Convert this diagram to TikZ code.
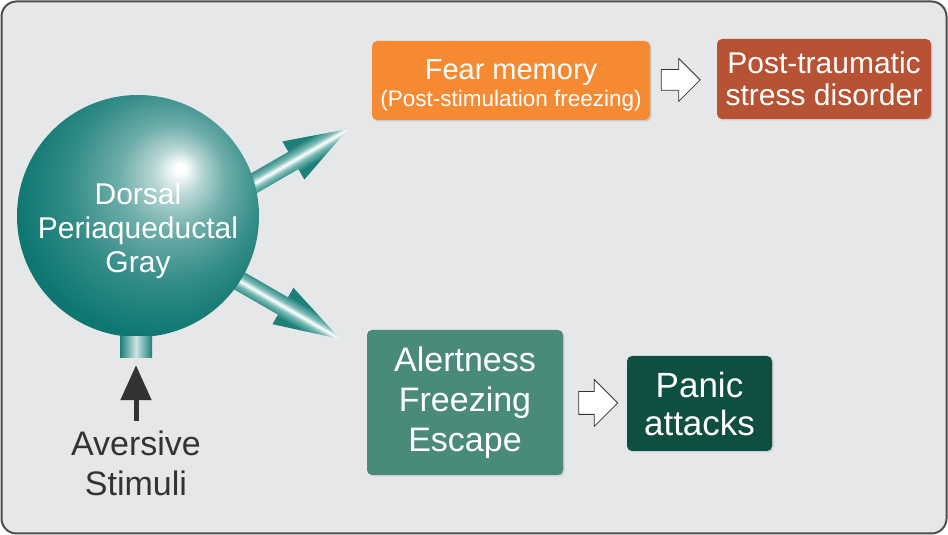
\documentclass[tikz,border=0pt]{standalone}
\usepackage{fontspec}
\setmainfont{Liberation Sans}
\usepackage{xcolor}
\usepackage{tikz}
\usetikzlibrary{shapes,shapes.arrows,positioning,calc,shadows,backgrounds,arrows.meta}

\definecolor{panelgray}{HTML}{E6E7E8}
\definecolor{paneledge}{HTML}{4D4D4D}
\definecolor{sph}{HTML}{0E7771}
\definecolor{armdark}{HTML}{1D7F79}
\definecolor{armmid}{HTML}{7DBCB7}
\definecolor{fearor}{HTML}{F68A33}
\definecolor{ptsdred}{HTML}{B75235}
\definecolor{alertgr}{HTML}{4A8A7A}
\definecolor{panicgr}{HTML}{0F4F42}
\definecolor{inkgray}{HTML}{333333}

\pgfdeclareradialshading{dpagshade}{\pgfpoint{9bp}{10bp}}{color(0bp)=(white); color(1bp)=(white); color(5bp)=(sph!30!white); color(11bp)=(sph!60!white); color(20bp)=(sph!85!white); color(29bp)=(sph); color(50bp)=(sph!85!black)}
\pgfdeclareverticalshading{armshade}{100bp}{color(0bp)=(armdark); color(36bp)=(armdark); color(45bp)=(armmid); color(50bp)=(white); color(55bp)=(armmid); color(64bp)=(armdark); color(100bp)=(armdark)}

\tikzset{panel/.style={draw=paneledge,line width=2pt,fill=panelgray,rounded corners=15pt}}
\tikzset{sphere/.style={circle,minimum size=242pt,inner sep=0pt,shade,shading=dpagshade}}
\tikzset{sphtext/.style={text=white,align=center,font=\fontsize{30}{34}\selectfont}}
\tikzset{stem/.style={minimum width=32pt,minimum height=21pt,inner sep=0pt,left color=armdark,right color=armdark,middle color=armmid!40!white}}
\tikzset{stim/.style={-{Triangle[width=30pt,length=35pt]},line width=5pt,draw=inkgray}}
\tikzset{arm/.style={shade,shading=armshade}}
\tikzset{box/.style={rounded corners=5pt,text=white,align=center,inner sep=0pt,drop shadow={opacity=0.25,shadow xshift=1.5pt,shadow yshift=-1.5pt}}}
\tikzset{hollow/.style={single arrow,draw=inkgray,fill=white,line width=0.8pt,minimum height=39pt,inner xsep=0pt,inner ysep=10pt,single arrow head extend=11pt}}

\begin{document}
\begin{tikzpicture}[x=1pt,y=1pt]
    \useasboundingbox (0,0) rectangle (948,535);

    \node[sphere] (dpag) at (138,319) {};
    \node[sphtext] (dpagtext) at ([yshift=-15pt]dpag.center) {Dorsal\\Periaqueductal\\Gray};
    \node[stem] (stem) at (136,187.5) {};
    \node[text=inkgray,align=center,font=\fontsize{34}{40}\selectfont] (aversive) at (136,72) {Aversive\\Stimuli};

    \node[box,fill=fearor,minimum width=278pt,minimum height=79pt] (fear) at (511,454.5)
        {\fontsize{29}{34}\selectfont\rule{0pt}{30pt}Fear memory\\[4pt]{\fontsize{22.5}{28}\selectfont (Post-stimulation freezing)}};
    \node[box,fill=ptsdred,minimum width=214pt,minimum height=80pt,font=\fontsize{30}{32}\selectfont] (ptsd) at (824,456) {Post-traumatic\\stress disorder};
    \node[box,fill=alertgr,minimum width=196pt,minimum height=145pt,font=\fontsize{34}{40}\selectfont] (alert) at (465,132.5) {Alertness\\Freezing\\Escape};
    \node[box,fill=panicgr,minimum width=145pt,minimum height=95pt,font=\fontsize{35}{38}\selectfont] (panic) at (699.5,131.5) {Panic\\attacks};

    \node[hollow] (toptsd) at ($(fear.east)!0.38!(ptsd.west)$) {};
    \node[hollow,inner ysep=11pt,single arrow head extend=12pt] (topanic) at ($(alert.east)!0.46!(panic.west)$) {};

    \draw [stim] ([yshift=6pt]aversive.north) to [] ([yshift=-7pt]stem.south);

    \coordinate (armup) at ($(dpag.center)+(106,27)$);
    \coordinate (armdown) at ($(dpag.center)+(93,-60)$);
    \begin{scope}[on background layer]
        \draw[panel] (1.5,1.5) rectangle (946.5,533.5);
        \path[arm,transform canvas={shift={(armup)},rotate=30}]
            (0,-10) -- (57,-10) -- (57,-22) -- (120,0) -- (57,22) -- (57,10) -- (0,10) -- cycle;
        \path[arm,transform canvas={shift={(armdown)},rotate=-30}]
            (0,-10) -- (60,-10) -- (60,-21) -- (126,0) -- (60,21) -- (60,10) -- (0,10) -- cycle;
    \end{scope}
\end{tikzpicture}
\end{document}
